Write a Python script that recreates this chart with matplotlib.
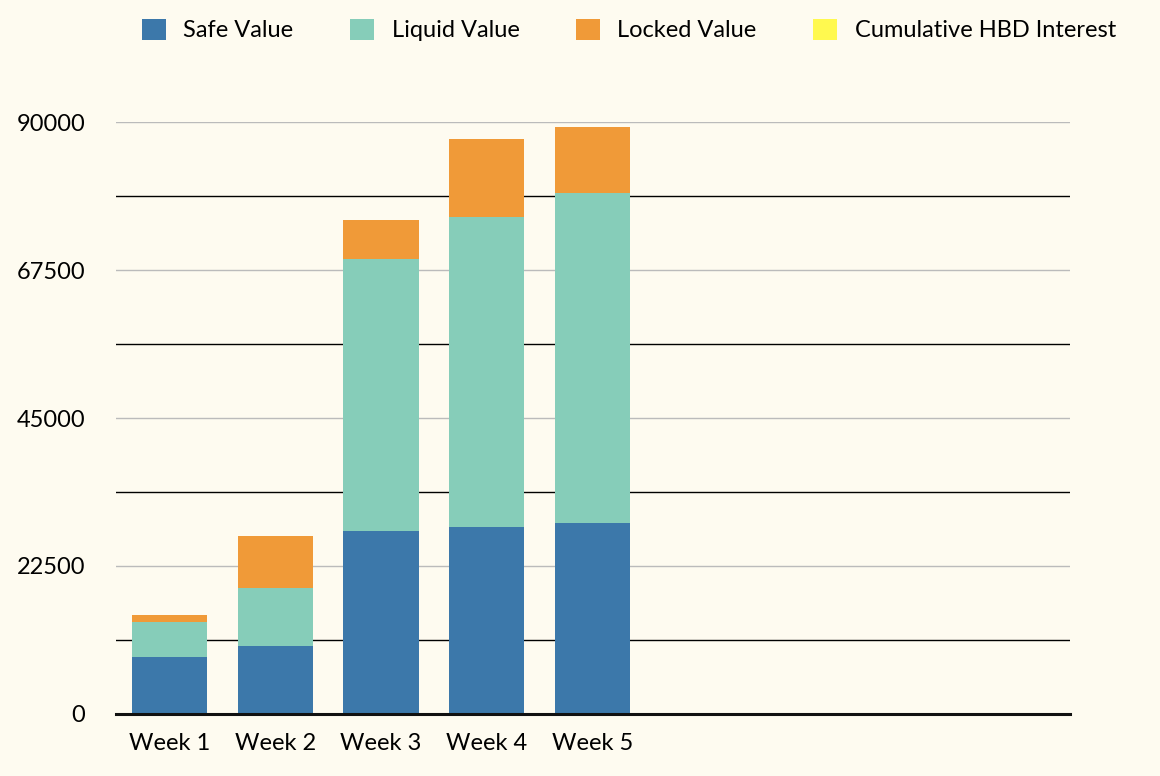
import matplotlib
matplotlib.use("Agg")
import matplotlib.pyplot as plt
from matplotlib.patches import Patch

categories = ["Week 1", "Week 2", "Week 3", "Week 4", "Week 5", "", "", "", ""]
safe = [8650, 10350, 27800, 28450, 29050]
liquid = [5350, 8800, 41350, 47100, 50150]
locked = [1050, 7900, 5950, 11850, 10050]
hbd_interest = [0, 0, 0, 0, 0]
series_names = ["Safe Value", "Liquid Value", "Locked Value", "Cumulative HBD Interest"]
colors = ["#3C78AA", "#86CDB9", "#F09A38", "#FFF94F"]
yticks = [0, 22500, 45000, 67500, 90000]
minor_lines = [11250, 33750, 56250, 78750]

bg = "#FEFBF0"
plt.rcParams['font.family'] = ['Lato', 'DejaVu Sans']

fig = plt.figure(figsize=(11.6, 7.76), dpi=100, facecolor=bg)
ax = fig.add_axes([116/1160, 62/776, (1070-116)/1160, (714-122)/776])
ax.set_facecolor(bg)

x = list(range(len(categories)))
n = len(safe)
xs = x[:n]
w = 0.71
ax.bar(xs, safe, w, color=colors[0], zorder=3)
b2 = [s for s in safe]
ax.bar(xs, liquid, w, bottom=b2, color=colors[1], zorder=3)
b3 = [s+l for s, l in zip(safe, liquid)]
ax.bar(xs, locked, w, bottom=b3, color=colors[2], zorder=3)
b4 = [a+b for a, b in zip(b3, locked)]
ax.bar(xs, hbd_interest, w, bottom=b4, color=colors[3], zorder=3)

ax.set_xlim(-0.506, 8.515)
ax.set_ylim(0, 90000)
for y in yticks[1:]:
    ax.axhline(y, color="#BBBBBB", lw=1.0, zorder=1)
for y in minor_lines:
    ax.axhline(y, color="#000000", lw=1.0, zorder=1)
ax.axhline(0, color="#111111", lw=2.2, zorder=4, clip_on=False)

for s in ax.spines.values():
    s.set_visible(False)
ax.set_yticks(yticks)
ax.set_yticklabels([str(v) for v in yticks])
ax.set_xticks(x)
ax.set_xticklabels(categories)
ax.tick_params(axis='y', length=0, pad=22, labelsize=17)
ax.tick_params(axis='x', length=0, pad=14, labelsize=17)

handles = [Patch(facecolor=c, edgecolor='none') for c in colors]
fig.legend(handles, series_names, loc='center', bbox_to_anchor=(629/1160, 1-30/776),
           ncol=4, frameon=False, fontsize=17, handlelength=1.0, handleheight=1.0,
           handletextpad=0.75, columnspacing=2.4)

fig.savefig("out.png", dpi=100, facecolor=bg)
